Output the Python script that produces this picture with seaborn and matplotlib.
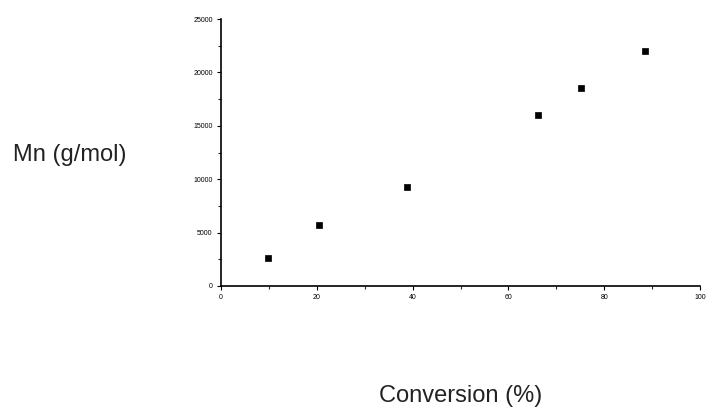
import numpy as np
import matplotlib
matplotlib.use("Agg")
import matplotlib.pyplot as plt
import seaborn as sns
from matplotlib.ticker import MultipleLocator

# values
conversion = [9.8, 20.5, 38.8, 66.2, 75.2, 88.5]
mn = [2600, 5700, 9300, 16000, 18500, 22000]
x_ticks = [0, 20, 40, 60, 80, 100]
y_ticks = [0, 5000, 10000, 15000, 20000, 25000]

sns.set_style("ticks")
plt.rcParams['font.family'] = ['Liberation Sans Narrow', 'Liberation Sans', 'DejaVu Sans']

fig = plt.figure(figsize=(7.07, 4.08), dpi=100)
ax = fig.add_axes([221/707, 1 - 286/408, 479/707, 267/408])

sns.scatterplot(x=conversion, y=mn, ax=ax, marker='s', s=20, color='black',
                edgecolor='black', linewidth=0.5)

ax.set_xlim(0, 100)
ax.set_ylim(0, 25000)
ax.set_xticks(x_ticks)
ax.set_yticks(y_ticks)
ax.xaxis.set_minor_locator(MultipleLocator(10))
ax.yaxis.set_minor_locator(MultipleLocator(2500))
ax.tick_params(which='major', length=3, width=0.8, labelsize=5, pad=3, colors='black')
ax.tick_params(which='minor', length=2, width=0.8)
sns.despine(ax=ax)
for s in ['left', 'bottom']:
    ax.spines[s].set_linewidth(1.2)
    ax.spines[s].set_color('black')

ax.set_xlabel('Conversion (%)', fontsize=17, color='#222222')
ax.xaxis.set_label_coords(0.5, -0.37)
ax.set_ylabel('Mn (g/mol)', fontsize=17, rotation=0, ha='center', va='center', color='#222222')
ax.yaxis.set_label_coords(-0.315, 0.49)

fig.savefig('out.png', dpi=100)
